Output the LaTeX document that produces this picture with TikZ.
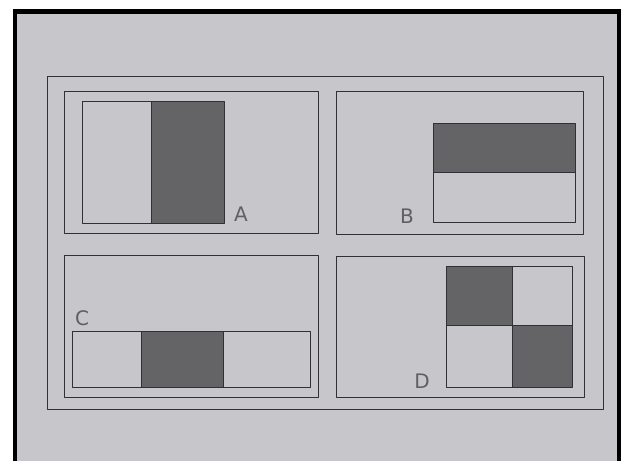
\documentclass[tikz,border=0pt]{standalone}
\usepackage{fontspec}
\setsansfont{DejaVu Sans}
\definecolor{paper}{RGB}{199,198,203}
\definecolor{pencil}{RGB}{50,47,55}
\definecolor{shade}{RGB}{100,99,101}
\definecolor{lettergray}{RGB}{95,95,100}
\begin{document}
\begin{tikzpicture}[x=1pt,y=-1pt,
  line/.style={draw=pencil,line width=0.95pt,line join=round},
  dark/.style={fill=shade},
  lbl/.style={text=lettergray,font=\fontsize{20}{20}\selectfont\sffamily,inner sep=0pt}]
\useasboundingbox (0,0) rectangle (628,461);
% white margin and black frame
\fill[white] (0,0) rectangle (628,461);
\fill[black] (13,9) rectangle (621,461);
\fill[paper] (17,14) rectangle (617,461);
% outer rectangle
\draw[line] (47,76) rectangle (603,409);
% panel A
\draw[line] (64,91) rectangle (318,233);
\fill[dark] (151,101) rectangle (224,223);
\draw[line] (82,101) rectangle (224,223);
\draw[line] (151,101) -- (151,223);
\node[lbl] (la) at (241,214) {A};
% panel B
\draw[line] (336,91) rectangle (583,234);
\fill[dark] (433,123) rectangle (575,172);
\draw[line] (433,123) rectangle (575,222);
\draw[line] (433,172) -- (575,172);
\node[lbl] (lb) at (407,216) {B};
% panel C
\draw[line] (64,255) rectangle (318,397);
\fill[dark] (141,331) rectangle (223,387);
\draw[line] (72,331) rectangle (310,387);
\draw[line] (141,331) -- (141,387);
\draw[line] (223,331) -- (223,387);
\node[lbl] (lc) at (82,318) {C};
% panel D
\draw[line] (336,256) rectangle (584,397);
\fill[dark] (446,266) rectangle (513,325);
\fill[dark] (512,325) rectangle (572,387);
\draw[line] (446,266) rectangle (572,387);
\draw[line] (512.5,266) -- (512.5,387);
\draw[line] (446,325) -- (572,325);
\node[lbl] (ld) at (422,381) {D};
\end{tikzpicture}
\end{document}
